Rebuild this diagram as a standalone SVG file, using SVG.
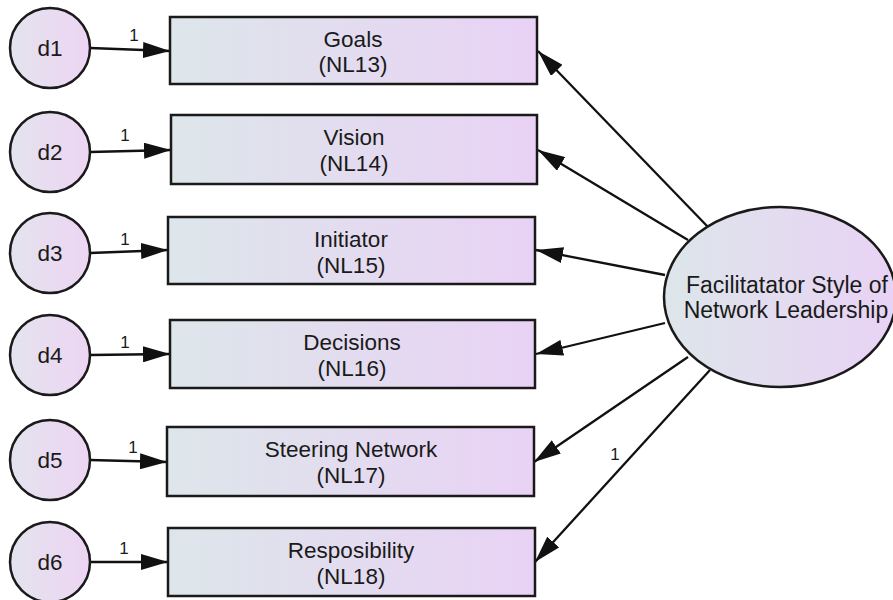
<svg xmlns="http://www.w3.org/2000/svg" width="893" height="600" viewBox="0 0 893 600">
  <style>
    .box { fill: url(#fillGrad); stroke: #1a1a1a; stroke-width: 2.5; }
    .err { fill: url(#circGrad); stroke: #1a1a1a; stroke-width: 2.5; }
    .lat { fill: url(#fillGrad); stroke: #1a1a1a; stroke-width: 2.5; }
    .lbl { font-family: "Liberation Sans", Arial, sans-serif; font-size: 22.5px; fill: #1a1a1a; text-anchor: middle; }
    .big { font-size: 23px; }
    .num { font-family: "Liberation Sans", Arial, sans-serif; font-size: 17px; fill: #1a1a1a; text-anchor: middle; }
    .path { stroke: #111; stroke-width: 2.3; fill: none; marker-end: url(#arrow); }
  </style>
  <defs>
    <linearGradient id="fillGrad" x1="0" y1="0" x2="1" y2="0">
      <stop offset="0" stop-color="#dde6ea"/>
      <stop offset="1" stop-color="#e9d2f5"/>
    </linearGradient>
    <linearGradient id="circGrad" x1="0" y1="0" x2="1" y2="0">
      <stop offset="0" stop-color="#e4e3ee"/>
      <stop offset="1" stop-color="#edd5f3"/>
    </linearGradient>
    <marker id="arrow" viewBox="0 0 27 16" refX="27" refY="8" markerWidth="27" markerHeight="16" markerUnits="userSpaceOnUse" orient="auto">
      <path d="M0,0 L27,8 L0,16 z" fill="#111"/>
    </marker>
  </defs>

  <!-- paths -->
  <g id="connectors">
    <line class="path" x1="90" y1="48" x2="170" y2="51"/>
    <line class="path" x1="90" y1="152" x2="171" y2="150"/>
    <line class="path" x1="90" y1="253" x2="168" y2="250"/>
    <line class="path" x1="90" y1="355" x2="170" y2="354"/>
    <line class="path" x1="90" y1="460" x2="167" y2="462"/>
    <line class="path" x1="90" y1="562" x2="168" y2="562"/>

    <line class="path" x1="708" y1="227" x2="538" y2="51"/>
    <line class="path" x1="688" y1="240" x2="538" y2="150"/>
    <line class="path" x1="665" y1="275" x2="536" y2="250"/>
    <line class="path" x1="665" y1="323" x2="536" y2="354"/>
    <line class="path" x1="688" y1="357" x2="534" y2="462"/>
    <line class="path" x1="710" y1="370" x2="535" y2="562"/>

    <text class="num" x="134" y="41">1</text>
    <text class="num" x="125" y="141">1</text>
    <text class="num" x="125" y="245">1</text>
    <text class="num" x="125" y="348">1</text>
    <text class="num" x="133" y="453">1</text>
    <text class="num" x="124" y="554">1</text>
    <text class="num" x="615" y="460">1</text>
  </g>

  <!-- error terms -->
  <g id="d1"><circle class="err" cx="50" cy="48" r="40"/><text class="lbl" x="50" y="56">d1</text></g>
  <g id="d2"><circle class="err" cx="50" cy="152" r="40"/><text class="lbl" x="50" y="160">d2</text></g>
  <g id="d3"><circle class="err" cx="50" cy="253" r="40"/><text class="lbl" x="50" y="261">d3</text></g>
  <g id="d4"><circle class="err" cx="50" cy="355" r="40"/><text class="lbl" x="50" y="363">d4</text></g>
  <g id="d5"><circle class="err" cx="50" cy="460" r="40"/><text class="lbl" x="50" y="468">d5</text></g>
  <g id="d6"><circle class="err" cx="50" cy="562" r="40"/><text class="lbl" x="50" y="570">d6</text></g>

  <!-- observed indicators -->
  <g id="goals"><rect class="box" x="170" y="17" width="367" height="67"/>
    <text class="lbl" x="353" y="47">Goals</text><text class="lbl" x="353" y="72">(NL13)</text></g>
  <g id="vision"><rect class="box" x="171" y="115" width="366" height="69"/>
    <text class="lbl" x="354" y="145">Vision</text><text class="lbl" x="354" y="171">(NL14)</text></g>
  <g id="initiator"><rect class="box" x="168" y="217" width="367" height="67"/>
    <text class="lbl" x="351" y="247">Initiator</text><text class="lbl" x="351" y="273">(NL15)</text></g>
  <g id="decisions"><rect class="box" x="170" y="320" width="365" height="68"/>
    <text class="lbl" x="352" y="350">Decisions</text><text class="lbl" x="352" y="376">(NL16)</text></g>
  <g id="steering"><rect class="box" x="167" y="427" width="367" height="69"/>
    <text class="lbl" x="351" y="457">Steering Network</text><text class="lbl" x="351" y="483">(NL17)</text></g>
  <g id="responsibility"><rect class="box" x="168" y="528" width="367" height="68"/>
    <text class="lbl" x="351" y="558">Resposibility</text><text class="lbl" x="351" y="584">(NL18)</text></g>

  <!-- latent factor -->
  <g id="facilitator">
    <ellipse class="lat" cx="780" cy="297" rx="116" ry="90"/>
    <text class="lbl big" x="787" y="293">Facilitatator Style of</text>
    <text class="lbl big" x="786" y="318">Network Leadership</text>
  </g>
</svg>
